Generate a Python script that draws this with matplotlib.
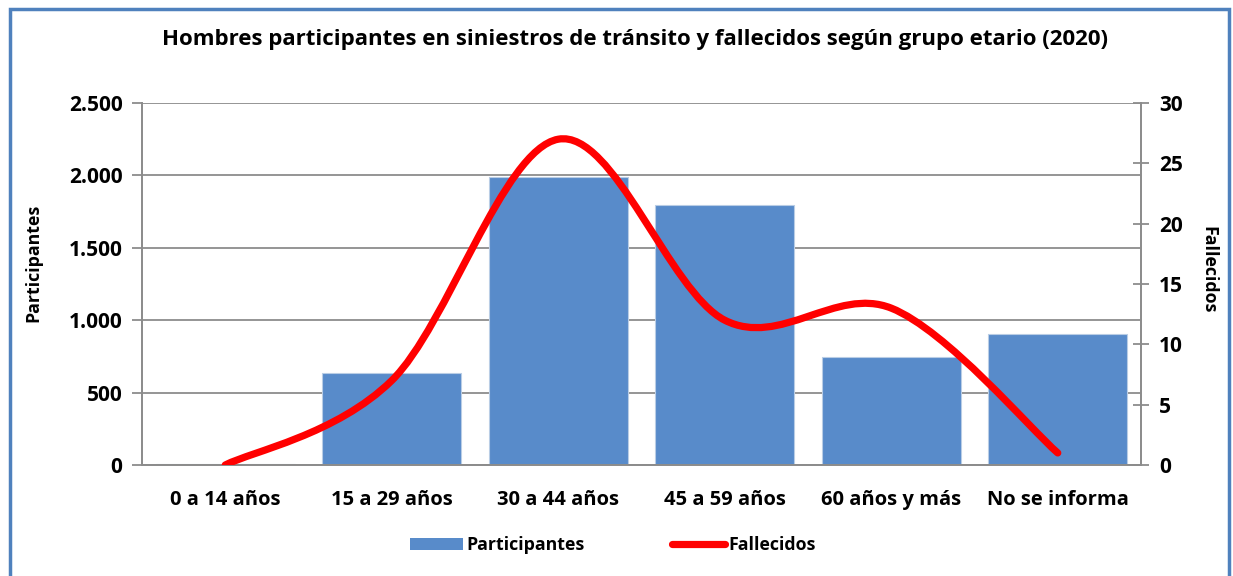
import matplotlib
matplotlib.use("Agg")
import matplotlib.pyplot as plt
import numpy as np
from matplotlib.path import Path
from matplotlib.patches import PathPatch, Rectangle, Patch
from matplotlib.lines import Line2D
from matplotlib.ticker import FuncFormatter

plt.rcParams['font.family'] = ['Open Sans', 'DejaVu Sans']
plt.rcParams['font.weight'] = 'bold'

# Data
grupos = ['0 a 14 años', '15 a 29 años', '30 a 44 años', '45 a 59 años',
          '60 años y más', 'No se informa']
participantes = [8, 635, 1988, 1795, 748, 902]
fallecidos = [0, 7, 27, 12, 13, 1]

bar_color = '#588BCA'
grid_color = '#8C8C8C'

fig = plt.figure(figsize=(12.33, 5.76), dpi=100)
ax1 = fig.add_axes([142 / 1233, 1 - 465 / 576, (1141 - 142) / 1233, (465 - 103) / 576])
ax2 = ax1.twinx()

x = np.arange(len(grupos))
ax1.bar(x, participantes, width=0.835, color=bar_color, edgecolor='#B9CDE5',
        linewidth=0.8, zorder=2)
ax1.set_xlim(-0.5, len(grupos) - 0.5)
ax1.set_ylim(0, 2500)
ax1.set_yticks(np.arange(0, 2501, 500))
ax1.yaxis.set_major_formatter(FuncFormatter(lambda v, p: f"{int(v):,}".replace(',', '.')))
ax1.set_axisbelow(True)
ax1.yaxis.grid(True, color=grid_color, linewidth=1.3)
ax1.set_xticks(x)
ax1.set_xticklabels(grupos, fontsize=14.5, fontweight='bold')
ax1.tick_params(axis='x', length=0, pad=18)
ax1.tick_params(axis='y', direction='out', length=7, width=1.3, color=grid_color,
                labelsize=15, pad=7)
for lab in ax1.get_yticklabels():
    lab.set_fontweight('bold')
ax1.set_ylabel('Participantes', fontsize=12.8, fontweight='bold')
ax1.yaxis.set_label_coords(-0.100, 0.558)

for s in ['top']:
    ax1.spines[s].set_visible(False)
    ax2.spines[s].set_visible(False)
for s in ['left', 'bottom', 'right']:
    ax1.spines[s].set_color(grid_color)
    ax1.spines[s].set_linewidth(1.3)
    ax2.spines[s].set_color(grid_color)
    ax2.spines[s].set_linewidth(1.3)

ax2.set_ylim(0, 30)
ax2.set_yticks(np.arange(0, 31, 5))
ax2.tick_params(axis='y', direction='inout', length=12, width=1.3, color=grid_color,
                labelsize=15, pad=7)
for lab in ax2.get_yticklabels():
    lab.set_fontweight('bold')
ax2.set_ylabel('Fallecidos', fontsize=12.8, fontweight='bold', rotation=-90, va='center')
ax2.yaxis.set_label_coords(1.067, 0.54)

# smoothed line (Bezier segments like the spreadsheet "smooth line")
pts = np.column_stack([x, fallecidos]).astype(float)
verts = [tuple(pts[0])]
codes = [Path.MOVETO]
n = len(pts)
for i in range(n - 1):
    p0 = pts[i - 1] if i > 0 else pts[i]
    p1 = pts[i]
    p2 = pts[i + 1]
    p3 = pts[i + 2] if i + 2 < n else pts[i + 1]
    c1 = p1 + (p2 - p0) / 6.0
    c2 = p2 - (p3 - p1) / 6.0
    verts += [tuple(c1), tuple(c2), tuple(p2)]
    codes += [Path.CURVE4, Path.CURVE4, Path.CURVE4]
curve = PathPatch(Path(verts, codes), fill=False, edgecolor='#FF0000', linewidth=5.2,
                  capstyle='round', joinstyle='round', zorder=3)
ax2.add_patch(curve)

fig.text(0.515, 1 - 39 / 576, 'Hombres participantes en siniestros de tránsito y fallecidos según grupo etario (2020)',
         ha='center', va='center', fontsize=16, fontweight='bold')

handles = [Patch(facecolor=bar_color, edgecolor='none'),
           Line2D([0], [0], color='#FF0000', linewidth=5.2, solid_capstyle='round')]
fig.legend(handles, ['Participantes', 'Fallecidos'], loc='center',
           bbox_to_anchor=(0.497, 1 - 545 / 576), ncol=2, frameon=False,
           handlelength=3.0, handletextpad=0.2, columnspacing=4.9,
           prop={'weight': 'bold', 'size': 12.8})

# blue outer frame
fig.patches.append(Rectangle((10 / 1233, -0.02), (1229 - 10) / 1233, 1.02 - 9 / 576,
                             transform=fig.transFigure, fill=False,
                             edgecolor='#4F81BD', linewidth=2.5, zorder=0))

fig.savefig('out.png', dpi=100)
